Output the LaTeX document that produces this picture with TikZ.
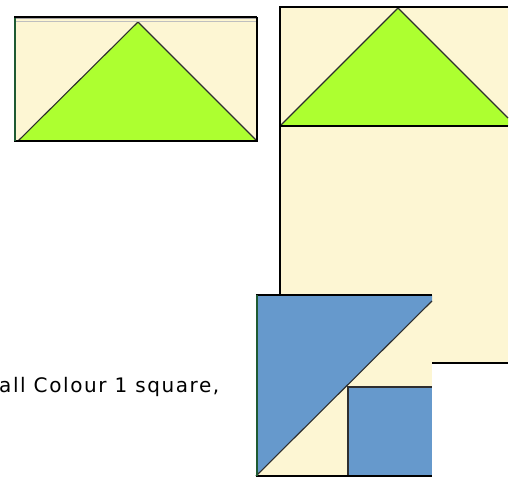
\documentclass[tikz,border=0pt]{standalone}
\usepackage{fontspec}
\setmainfont{DejaVu Sans}
\newfontfamily\captionfont[LetterSpace=8]{DejaVu Sans}
\definecolor{beige}{HTML}{FDF6D3}
\definecolor{lime}{HTML}{ADFF30}
\definecolor{qblue}{HTML}{6699CC}
\definecolor{dgreen}{HTML}{1E5A32}
\definecolor{edge}{HTML}{2E2E2E}
\tikzset{
  outline/.style={draw=black, line width=1.8pt},
  seam/.style={draw=edge, line width=1.1pt},
}
\begin{document}
\begin{tikzpicture}[x=1pt,y=-1pt]
\useasboundingbox (0,0) rectangle (515,477);
% top-left block
\fill[beige] (14,18) rectangle (257,141);
\fill[lime] (18,141) -- (138,22) -- (257,141) -- cycle;
\draw[seam] (18,141) -- (138,22) -- (257,141);
\draw[gray!70, line width=1pt] (14,18.5) -- (257,18.5);
\draw[gray!50, line width=1pt] (14,21.5) -- (257,21.5);
\draw[outline] (14,17) -- (257,17);
\draw[outline] (257,17) -- (257,141) -- (14,141);
\draw[dgreen, line width=2.4pt] (15.2,18) -- (15.2,141);
% tall block
\fill[beige] (280,7) rectangle (508,363);
\fill[lime] (280,126) -- (398,8) -- (508,118) -- (508,126) -- cycle;
\draw[seam] (280,126) -- (398,8) -- (508,118);
\draw[outline] (280,126) -- (508,126);
\draw[outline] (508,7) -- (280,7) -- (280,296);
\draw[outline] (432,363) -- (508,363);
% blue block
\fill[beige] (256,295) rectangle (432,476);
\fill[qblue] (256,295) -- (432,295) -- (432,301) -- (256,476) -- cycle;
\draw[seam] (256,476) -- (432,301);
\fill[qblue] (348,387) rectangle (432,476);
\draw[seam] (348,476) -- (348,387) -- (432,387);
\draw[outline] (256,295) -- (432,295);
\draw[outline] (256,476) -- (432,476);
\draw[dgreen, line width=2pt] (257,295) -- (257,476);
% text
\node[anchor=base west, inner sep=0pt, font=\captionfont\fontsize{20}{22}\selectfont] (caption) at (-1,392) {all Colour 1 square,};
\end{tikzpicture}
\end{document}
